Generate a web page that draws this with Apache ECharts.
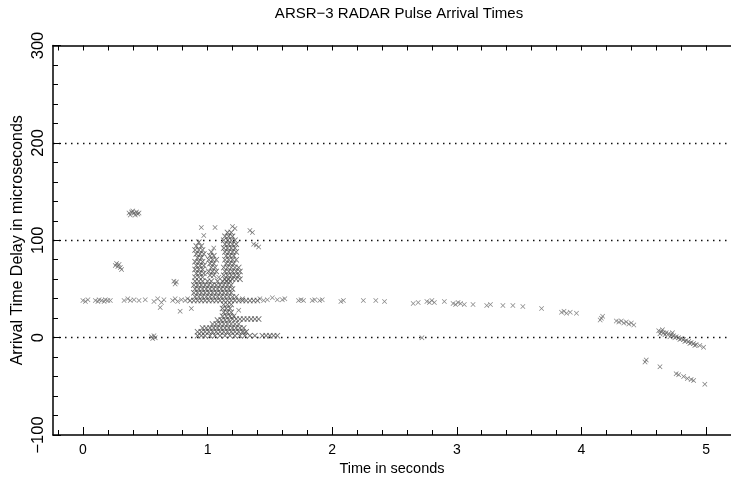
<!DOCTYPE html>
<html>
<head>
<meta charset="utf-8">
<script src="https://cdn.jsdelivr.net/npm/echarts@6/dist/echarts.min.js"></script>
<style>html,body{margin:0;padding:0;background:#fff;}#c{width:731px;height:485px;}</style>
</head>
<body>
<div id="c"></div>
<script>
// ---- tick labels ----
const xMajorTicks = [0, 1, 2, 3, 4, 5];
const xMinorTicks = [-0.2, 0.2, 0.4, 0.6, 0.8, 1.2, 1.4, 1.6, 1.8, 2.2, 2.4, 2.6, 2.8, 3.2, 3.4, 3.6, 3.8, 4.2, 4.4, 4.6, 4.8, 5.2];
const xTopTicks = [-0.2, 0, 0.2, 0.4, 0.6, 0.8, 1, 1.2, 1.4, 1.6, 1.8, 2, 2.2, 2.4, 2.6, 2.8, 3, 3.2, 3.4, 3.6, 3.8, 4, 4.2, 4.4, 4.6, 4.8, 5, 5.2];
const yTickLabels = [-100, 0, 100, 200, 300];

// ---- data: [time s, delay us] ----
const bandPoints = [
  [0.0,38],[0.02,37],[0.04,39],[0.1,38],[0.12,37],[0.13,39],[0.15,38],[0.17,37],[0.18,39],[0.2,38],[0.22,38],
  [0.33,38],[0.36,40],[0.38,38],[0.41,39],[0.45,38],[0.5,39],[0.57,37],[0.6,40],[0.63,36],[0.65,39],
  [0.72,38],[0.74,40],[0.76,37],[0.79,39],[0.82,38],[0.84,40],
  [1.42,40],[1.45,38],[1.48,39],[1.52,41],[1.56,39],[1.6,39],[1.62,40],[1.73,38],[1.75,39],[1.77,38],
  [1.84,38],[1.86,39],[1.9,38],[1.92,39],[2.07,37],[2.09,38],[2.25,38],[2.35,38],[2.42,37],
  [2.65,35],[2.69,36],[2.76,37],[2.78,36],[2.8,38],[2.82,36],[2.9,37],[2.97,35],[2.99,34],[3.01,36],[3.03,35],[3.06,34],
  [3.13,34],[3.24,33],[3.27,34],[3.37,33],[3.45,33],[3.53,32],[3.68,30],[3.84,26],[3.86,27],[3.88,25],[3.91,26],[3.96,25],
  [4.15,18],[4.16,20],[4.17,22],[4.28,17],[4.3,16],[4.32,17],[4.34,15],[4.36,16],[4.38,14],[4.4,15],[4.42,13]
];
const tailPoints = [
  [4.62,7],[4.64,6],[4.65,8],[4.66,5],[4.68,5],[4.7,4],[4.72,3],[4.73,5],[4.74,2],[4.76,1],[4.78,0],[4.8,-1],[4.82,-2],
  [4.84,-3],[4.86,-4],[4.88,-5],[4.9,-6],[4.92,-7],[4.95,-8],[4.98,-10],
  [4.63,4],[4.67,3],[4.71,1],[4.75,0],[4.79,-2],[4.83,-4],[4.87,-6],[4.91,-8],
  [4.51,-25],[4.52,-23],[4.63,-30],[4.76,-37],[4.78,-38],[4.82,-40],[4.85,-42],[4.88,-43],[4.9,-44],[4.99,-48]
];
const isolatedPoints = [
  [0.37,128],[0.39,129],[0.41,128],[0.43,129],[0.45,128],[0.38,126],[0.42,126],[0.44,127],[0.40,130],
  [0.26,74],[0.28,73],[0.3,72],[0.27,76],[0.29,75],[0.31,70],
  [0.73,58],[0.75,57],[0.74,55],
  [0.55,1],[0.57,2],[0.58,0],[0.56,-1],[2.72,0],[0.62,31],[0.78,27],
  [0.95,113],[1.06,113],[1.2,114],[1.22,112],[1.34,110],[1.36,108],[1.39,95],[1.41,93],[1.37,96],
  [0.97,105],[1.09,62],[1.05,92],[1.28,40],[0.87,30],[1.25,28],[1.3,5]
];
// main cluster as rows: [delay us, [times s]]
const clusterRows = [
  [108,[1.16,1.19]],
  [104,[1.14,1.17,1.2]],
  [100,[1.13,1.16,1.19,1.22]],
  [98,[0.93]],
  [96,[1.14,1.17,1.2,1.23]],
  [94,[0.91,0.95]],
  [92,[1.13,1.16,1.19,1.22]],
  [90,[0.9,0.93,0.96]],
  [88,[1.03,1.14,1.17,1.2,1.23]],
  [86,[0.91,0.94,0.97]],
  [84,[1.02,1.05,1.15,1.18,1.21]],
  [82,[0.92,0.95]],
  [80,[1.01,1.04,1.07,1.14,1.17,1.2,1.23]],
  [78,[0.9,0.93,0.96]],
  [76,[1.02,1.05,1.15,1.18,1.21]],
  [74,[0.91,0.94,0.97]],
  [72,[1.03,1.06,1.13,1.16,1.19,1.22,1.25]],
  [70,[0.9,0.93,0.96]],
  [68,[1.01,1.04,1.07,1.14,1.17,1.2,1.23,1.26]],
  [66,[0.91,0.94,0.97]],
  [64,[1.02,1.05,1.13,1.16,1.19,1.22,1.25]],
  [62,[0.9,0.93,0.96]],
  [60,[1.14,1.17,1.2,1.23,1.26]],
  [58,[0.9,0.93,0.96,1.0,1.03,1.08,1.12,1.15,1.18]],
  [54,[0.89,0.92,0.95,0.98,1.01,1.04,1.07,1.1,1.13,1.16,1.19]],
  [50,[0.9,0.93,0.96,0.99,1.02,1.05,1.08,1.11,1.14,1.17,1.2]],
  [46,[0.89,0.92,0.95,0.98,1.01,1.04,1.07,1.1,1.13,1.16,1.19]],
  [42,[0.9,0.93,0.96,0.99,1.02,1.05,1.08,1.11,1.14,1.17,1.2,1.23]],
  [38,[0.86,0.89,0.92,0.95,0.98,1.01,1.04,1.07,1.1,1.13,1.16,1.19,1.22,1.25,1.28,1.31,1.34,1.37,1.4]],
  [34,[1.13,1.16,1.19]],
  [30,[1.12,1.15,1.18]],
  [26,[1.13,1.16,1.19]],
  [22,[1.12,1.15,1.18,1.21]],
  [19,[1.2,1.23,1.26,1.29,1.32,1.35,1.38,1.41]],
  [18,[1.08,1.11,1.14,1.17]],
  [14,[1.04,1.07,1.1,1.13,1.16,1.19,1.22,1.25]],
  [10,[0.96,0.99,1.02,1.05,1.08,1.11,1.14,1.17,1.2,1.23,1.26,1.29]],
  [6,[0.92,0.95,0.98,1.01,1.04,1.07,1.1,1.13,1.16,1.19,1.22,1.25,1.28,1.31]],
  [2,[0.92,0.95,0.98,1.02,1.06,1.1,1.14,1.18,1.22,1.26,1.3,1.34,1.38,1.44,1.47,1.5,1.53,1.56]]
];

const clusterPoints = [];
clusterRows.forEach(function (r) { r[1].forEach(function (x) { clusterPoints.push([x, r[0]]); }); });

const FONT = 'Liberation Sans, Arial, sans-serif';
const xMark = 'path://M0,1L1,0L5,4L9,0L10,1L6,5L10,9L9,10L5,6L1,10L0,9L4,5Z';
function sc(data, size, color) {
  return { type: 'scatter', xAxisIndex: 0, yAxisIndex: 0, data: data, symbol: xMark, symbolSize: size,
    itemStyle: { color: color }, silent: true, animation: false, z: 1 };
}

const chart = echarts.init(document.getElementById('c'), null, { renderer: 'canvas' });
chart.setOption({
  animation: false,
  backgroundColor: '#fff',
  title: { text: 'ARSR\u22123 RADAR Pulse Arrival Times', left: 394, top: 1, textAlign: 'center',
    textStyle: { fontFamily: FONT, fontSize: 15, fontWeight: 'normal', color: '#000' } },
  grid: { left: 53, top: 45.5, width: 680, height: 389.5, containLabel: false },
  xAxis: [
    { type: 'value', min: -0.24, max: 5.2, position: 'bottom',
      name: 'Time in seconds', nameLocation: 'middle', nameGap: 26,
      nameTextStyle: { fontFamily: FONT, fontSize: 14.5, color: '#000' },
      axisLine: { show: true, onZero: false, lineStyle: { color: '#000', width: 1.5 } },
      axisTick: { show: true, inside: true, length: 8, customValues: xMajorTicks, lineStyle: { color: '#000' } },
      axisLabel: { show: true, customValues: xMajorTicks, margin: 8, fontFamily: FONT, fontSize: 14, color: '#000' },
      splitLine: { show: false } },
    { type: 'value', min: -0.24, max: 5.2, position: 'bottom',
      axisLine: { show: false, onZero: false },
      axisTick: { show: true, inside: true, length: 5, customValues: xMinorTicks, lineStyle: { color: '#000' } },
      axisLabel: { show: false }, splitLine: { show: false } },
    { type: 'value', min: -0.24, max: 5.2, position: 'top',
      axisLine: { show: true, onZero: false, lineStyle: { color: '#000', width: 1.5 } },
      axisTick: { show: true, inside: true, length: 5, customValues: xTopTicks, lineStyle: { color: '#000' } },
      axisLabel: { show: false }, splitLine: { show: false } }
  ],
  yAxis: [
    { type: 'value', min: -100, max: 300, interval: 100, position: 'left',
      name: 'Arrival Time Delay in microseconds', nameLocation: 'middle', nameGap: 27, nameRotate: 90,
      nameMoveOverlap: false,
      nameTextStyle: { fontFamily: FONT, fontSize: 16, color: '#000' },
      axisLine: { show: true, onZero: false, lineStyle: { color: '#000', width: 1.5 } },
      axisTick: { show: true, inside: true, length: 8, lineStyle: { color: '#000' } },
      minorTick: { show: true, splitNumber: 5, length: 5, lineStyle: { color: '#000' } },
      axisLabel: { show: true, rotate: 90, margin: 6, fontFamily: FONT, fontSize: 16.5, color: '#000',
        customValues: yTickLabels,
        formatter: function (v) { return v < 0 ? '\u2212' + Math.abs(v) : String(v); } },
      splitLine: { show: true, showMinLine: false, showMaxLine: false,
        lineStyle: { color: '#111', width: 1.3, type: [1.5, 4.5] } }
    }
  ],
  series: [sc(bandPoints, 5, '#6a6a6a'), sc(clusterPoints, 6, '#4a4a4a'), sc(tailPoints, 5, '#5a5a5a'), sc(isolatedPoints, 5, '#5a5a5a')]
});
</script>
</body>
</html>
